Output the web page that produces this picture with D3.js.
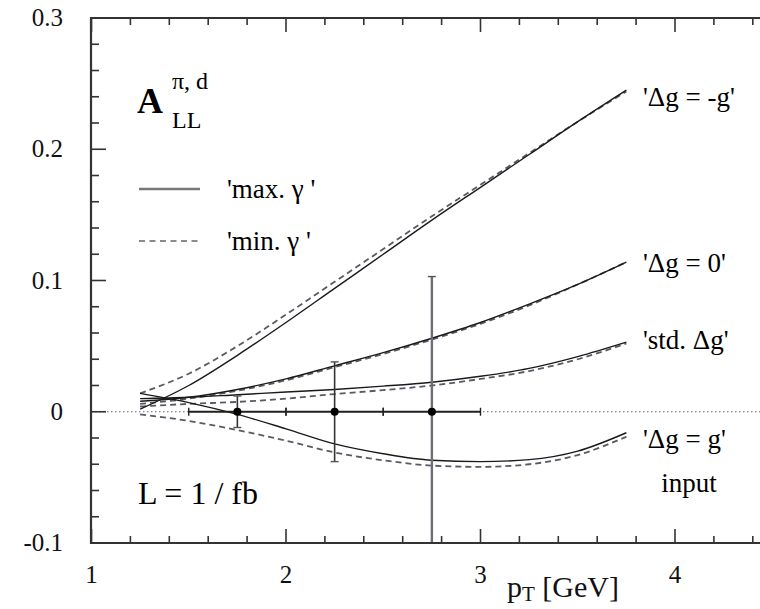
<!DOCTYPE html>
<html>
<head>
<meta charset="utf-8">
<script src="https://cdn.jsdelivr.net/npm/d3@7.9.0/dist/d3.min.js"></script>
<style>
  body { margin: 0; background: #fff; }
</style>
</head>
<body>
<svg id="chart" width="760" height="609" font-family="'Liberation Serif', 'DejaVu Serif', serif"></svg>
<script>
// pT grid shared by all curves
const pT = [1.25, 1.5, 1.75, 2.0, 2.25, 2.5, 2.75, 3.0, 3.25, 3.5, 3.75];

// 'Δg = -g'
const negGMax = [0.002, 0.020, 0.043, 0.068, 0.094, 0.120, 0.146, 0.171, 0.196, 0.221, 0.245];
const negGMin = [0.014, 0.029, 0.050, 0.074, 0.099, 0.124, 0.149, 0.173, 0.197, 0.221, 0.244];
// 'Δg = 0'
const zeroMax = [0.008, 0.011, 0.017, 0.025, 0.035, 0.045, 0.056, 0.068, 0.082, 0.097, 0.114];
const zeroMin = [0.006, 0.010, 0.016, 0.024, 0.034, 0.044, 0.055, 0.067, 0.081, 0.097, 0.114];
// 'std. Δg'
const stdMax = [0.010, 0.011, 0.013, 0.015, 0.017, 0.0195, 0.0225, 0.027, 0.033, 0.042, 0.053];
const stdMin = [0.004, 0.006, 0.0075, 0.010, 0.0135, 0.0165, 0.020, 0.025, 0.031, 0.040, 0.052];
// 'Δg = g'
const posGMax = [0.014, 0.007, -0.002, -0.013, -0.0245, -0.032, -0.037, -0.038, -0.0365, -0.030, -0.016];
const posGMin = [-0.002, -0.007, -0.014, -0.022, -0.031, -0.037, -0.041, -0.042, -0.040, -0.033, -0.019];

// projected data points (input)
const binCenters = [1.75, 2.25, 2.75];
const binValues = [0, 0, 0];
const binYErr = [0.012, 0.038, 0.103];
const binXErr = 0.25;

const xTicks = [1, 2, 3, 4];
const yTicks = [-0.1, 0, 0.1, 0.2, 0.3];
const yTickLabels = ['-0.1', '0', '0.1', '0.2', '0.3'];

const svg = d3.select('#chart');
const pLeft = 91, pRight = 760, pTop = 18, pBottom = 543;

const x = d3.scaleLinear().domain([1, 4]).range([91.5, 675]);
const y = d3.scaleLinear().domain([-0.1, 0.3]).range([pBottom, pTop]);

svg.append('defs').append('clipPath').attr('id', 'plot')
  .append('rect').attr('x', pLeft).attr('y', pTop).attr('width', pRight - pLeft).attr('height', pBottom - pTop);

const plot = svg.append('g').attr('clip-path', 'url(#plot)');

// zero line
plot.append('line')
  .attr('x1', pLeft).attr('x2', pRight).attr('y1', y(0)).attr('y2', y(0))
  .attr('stroke', '#666').attr('stroke-width', 1.2).attr('stroke-dasharray', '1.5,2.5');

const line = d3.line().x((d) => x(d[0])).y((d) => y(d[1])).curve(d3.curveMonotoneX);

const curves = [
  [negGMin, 'min'], [zeroMin, 'min'], [stdMin, 'min'], [posGMin, 'min'],
  [negGMax, 'max'], [zeroMax, 'max'], [stdMax, 'max'], [posGMax, 'max']
];
curves.forEach(([vals, kind]) => {
  plot.append('path')
    .attr('d', line(pT.map((p, i) => [p, vals[i]])))
    .attr('fill', 'none')
    .attr('stroke', kind === 'max' ? '#1a1a1a' : '#5a5a66')
    .attr('stroke-width', kind === 'max' ? 1.4 : 1.8)
    .attr('stroke-dasharray', kind === 'max' ? null : '6,4');
});

// error bars
binCenters.forEach((c, i) => {
  const big = i === 2;
  plot.append('line')
    .attr('x1', x(c)).attr('x2', x(c))
    .attr('y1', y(binValues[i] + binYErr[i])).attr('y2', y(binValues[i] - binYErr[i]))
    .attr('stroke', big ? '#6e6e78' : '#333').attr('stroke-width', big ? 2.4 : 1.6);
  [binValues[i] + binYErr[i], binValues[i] - binYErr[i]].forEach((v) => {
    plot.append('line')
      .attr('x1', x(c) - 4).attr('x2', x(c) + 4).attr('y1', y(v)).attr('y2', y(v))
      .attr('stroke', '#555').attr('stroke-width', 1.4);
  });
  plot.append('line')
    .attr('x1', x(c - binXErr)).attr('x2', x(c + binXErr)).attr('y1', y(binValues[i])).attr('y2', y(binValues[i]))
    .attr('stroke', '#222').attr('stroke-width', 2.2);
  [c - binXErr, c + binXErr].forEach((e) => {
    plot.append('line')
      .attr('x1', x(e)).attr('x2', x(e)).attr('y1', y(binValues[i]) - 4).attr('y2', y(binValues[i]) + 4)
      .attr('stroke', '#222').attr('stroke-width', 1.4);
  });
  plot.append('circle')
    .attr('cx', x(c)).attr('cy', y(binValues[i])).attr('r', 4).attr('fill', '#000');
});

// frame and ticks
const axisColor = '#333';
svg.append('path')
  .attr('d', `M${pRight},${pTop}H${pLeft}V${pBottom}H${pRight}`)
  .attr('fill', 'none').attr('stroke', axisColor).attr('stroke-width', 2.2);

const xMinor = d3.range(1, 4.5, 0.2).filter((v) => x(v) < pRight);
xMinor.forEach((v) => {
  const major = Math.abs(v - Math.round(v)) < 1e-6;
  const len = major ? 14 : 7;
  svg.append('line').attr('x1', x(v)).attr('x2', x(v)).attr('y1', pBottom).attr('y2', pBottom - len)
    .attr('stroke', axisColor).attr('stroke-width', 1.6);
  svg.append('line').attr('x1', x(v)).attr('x2', x(v)).attr('y1', pTop).attr('y2', pTop + len)
    .attr('stroke', axisColor).attr('stroke-width', 1.6);
});
d3.range(-0.1, 0.3001, 0.02).forEach((v) => {
  const major = Math.abs(v * 10 - Math.round(v * 10)) < 1e-6;
  svg.append('line').attr('x1', pLeft).attr('x2', pLeft + (major ? 15 : 8)).attr('y1', y(v)).attr('y2', y(v))
    .attr('stroke', axisColor).attr('stroke-width', 1.6);
});

svg.selectAll('.ylab').data(yTicks).join('text')
  .attr('x', 63).attr('y', (d) => y(d) + 8)
  .attr('text-anchor', 'end').attr('font-size', 25).attr('fill', '#111')
  .text((d, i) => yTickLabels[i]);
svg.selectAll('.xlab').data(xTicks).join('text')
  .attr('x', (d) => x(d)).attr('y', 583)
  .attr('text-anchor', 'middle').attr('font-size', 25).attr('fill', '#111')
  .text((d) => d);

// axis title
const xt = svg.append('text').attr('x', 507).attr('y', 597).attr('font-size', 30).attr('fill', '#111');
xt.append('tspan').text('p');
xt.append('tspan').attr('font-size', 21).attr('dy', 4).text('T');
xt.append('tspan').attr('dy', -4).text(' [GeV]');

// A_LL^{π, d}
svg.append('text').attr('x', 137).attr('y', 113).attr('font-size', 36).attr('font-weight', 'bold').text('A');
svg.append('text').attr('x', 172).attr('y', 89).attr('font-size', 24).text('π, d');
svg.append('text').attr('x', 172).attr('y', 128).attr('font-size', 24).text('LL');

// legend
svg.append('line').attr('x1', 139).attr('x2', 200).attr('y1', 189).attr('y2', 189)
  .attr('stroke', '#777').attr('stroke-width', 2.4);
svg.append('line').attr('x1', 139).attr('x2', 200).attr('y1', 241).attr('y2', 241)
  .attr('stroke', '#666').attr('stroke-width', 1.6).attr('stroke-dasharray', '6,4.5');
svg.append('text').attr('x', 227).attr('y', 198).attr('font-size', 27).text("'max. γ '");
svg.append('text').attr('x', 227).attr('y', 250).attr('font-size', 27).text("'min. γ '");

// curve labels
const labels = [
  ["'Δg = -g'", 106], ["'Δg = 0'", 272], ["'std. Δg'", 349], ["'Δg = g'", 448]
];
labels.forEach(([t, yy]) => {
  svg.append('text').attr('x', 643).attr('y', yy).attr('font-size', 27).text(t);
});
svg.append('text').attr('x', 689).attr('y', 492).attr('text-anchor', 'middle').attr('font-size', 27).text('input');

svg.append('text').attr('x', 138).attr('y', 504).attr('font-size', 32).text('L = 1 / fb');
</script>
</body>
</html>
